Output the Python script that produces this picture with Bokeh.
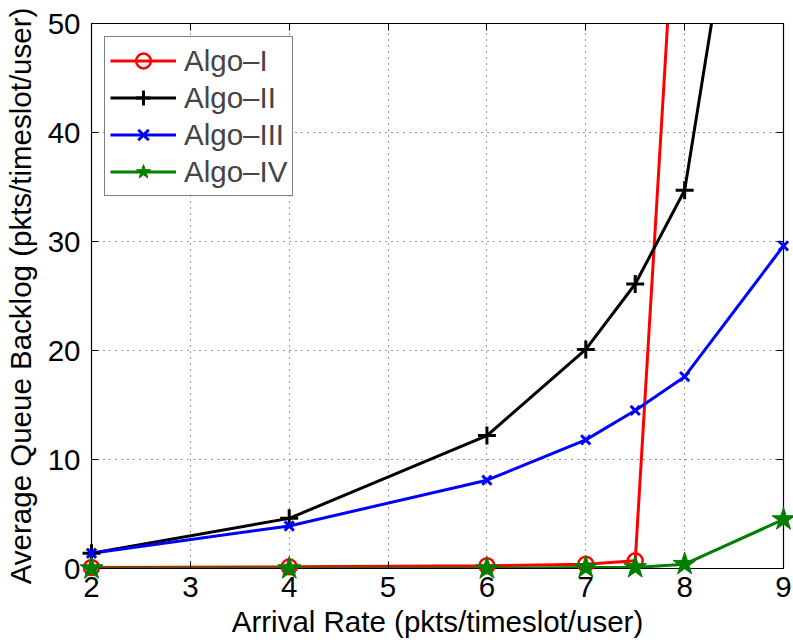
from bokeh.plotting import figure
from bokeh.models import (Range1d, FixedTicker, LinearAxis, Legend, LegendItem,
                          ColumnDataSource, CDSView, BooleanFilter)
from bokeh.embed import file_html
from bokeh.resources import INLINE

# ---- data ----
arrival_rate = [2, 4, 6, 7, 7.5, 8, 9]
algo1 = [0.1, 0.15, 0.25, 0.4, 0.7, 76.0, 160.0]
algo2 = [1.4, 4.6, 12.2, 20.1, 26.1, 34.7, 91.0]
algo3 = [1.4, 3.9, 8.1, 11.8, 14.5, 17.6, 29.6]
algo4 = [0.0, 0.0, 0.0, 0.1, 0.1, 0.4, 4.5]
series_names = ["Algo\u2013I", "Algo\u2013II", "Algo\u2013III", "Algo\u2013IV"]
x_ticks = [2, 3, 4, 5, 6, 7, 8, 9]
y_ticks = [0, 10, 20, 30, 40, 50]
x_label = "Arrival Rate (pkts/timeslot/user)"
y_label = "Average Queue Backlog (pkts/timeslot/user)"

FONT = "Liberation Sans"
FS = "29.5px"

p = figure(width=793, height=643, output_backend="svg", toolbar_location=None,
           x_range=Range1d(2, 9), y_range=Range1d(0, 50),
           min_border_left=91, min_border_right=10, min_border_top=23,
           min_border_bottom=75)
p.outline_line_color = "black"
p.outline_line_width = 1.2
p.background_fill_color = "white"
p.border_fill_color = "white"

for ax in (p.xaxis[0], p.yaxis[0]):
    ax.major_tick_in = 7
    ax.major_tick_out = 0
    ax.minor_tick_line_color = None
    ax.axis_line_color = "black"
    ax.major_tick_line_color = "black"
    ax.major_label_text_font = FONT
    ax.major_label_text_font_size = FS
    ax.major_label_text_color = "black"
    ax.axis_label_text_font = FONT
    ax.axis_label_text_font_size = FS
    ax.axis_label_text_font_style = "normal"
    ax.axis_label_text_color = "black"

p.xaxis.ticker = FixedTicker(ticks=x_ticks)
p.yaxis.ticker = FixedTicker(ticks=y_ticks)
p.xaxis.axis_label = x_label
p.yaxis.axis_label = y_label
p.xaxis.major_label_standoff = 8
p.xaxis.axis_label_standoff = 5
p.yaxis.major_label_standoff = 11
p.yaxis.axis_label_standoff = 8

# box ticks on top/right (no labels)
top_ax = LinearAxis(ticker=FixedTicker(ticks=x_ticks), major_label_text_color=None,
                    major_label_text_font_size="8px",
                    major_tick_in=7, major_tick_out=0, minor_tick_line_color=None)
right_ax = LinearAxis(ticker=FixedTicker(ticks=y_ticks), major_label_text_color=None,
                      major_label_text_font_size="8px",
                      major_tick_in=7, major_tick_out=0, minor_tick_line_color=None)
p.add_layout(top_ax, "above")
p.add_layout(right_ax, "right")

p.xgrid.ticker = FixedTicker(ticks=x_ticks)
p.ygrid.ticker = FixedTicker(ticks=y_ticks)
for g in (p.xgrid[0], p.ygrid[0]):
    g.grid_line_color = "#333333"
    g.grid_line_dash = "1 5"
    g.grid_line_width = 1

GREEN = "#007f00"
specs = [
    (algo1, "red", "circle", 15, None, 2.5),
    (algo2, "black", "cross", 18, "black", 3),
    (algo3, "blue", "x", 13, "blue", 3),
    (algo4, GREEN, "star", 24, GREEN, 1),
]

items = []
for (vals, col, mk, sz, fill, lw), name in zip(specs, series_names):
    src = ColumnDataSource(dict(x=arrival_rate, y=vals))
    lr = p.line("x", "y", source=src, line_color=col, line_width=3)
    mask = [v <= 50 for v in vals]
    view = CDSView(filter=BooleanFilter(mask))
    mr = p.scatter("x", "y", source=src, view=view, marker=mk, size=sz,
                   line_color=col, fill_color=fill, line_width=lw, level="overlay")
    items.append(LegendItem(label=name, renderers=[lr, mr]))

legend = Legend(items=items, location="top_left", margin=13,
                label_text_font=FONT, label_text_font_size=FS,
                border_line_color="black", border_line_width=1.5,
                background_fill_color="white", background_fill_alpha=1,
                padding=5, spacing=0, glyph_width=66, glyph_height=37,
                label_height=37, label_standoff=8)
p.add_layout(legend)

open("out.html", "w").write(file_html(p, INLINE))
